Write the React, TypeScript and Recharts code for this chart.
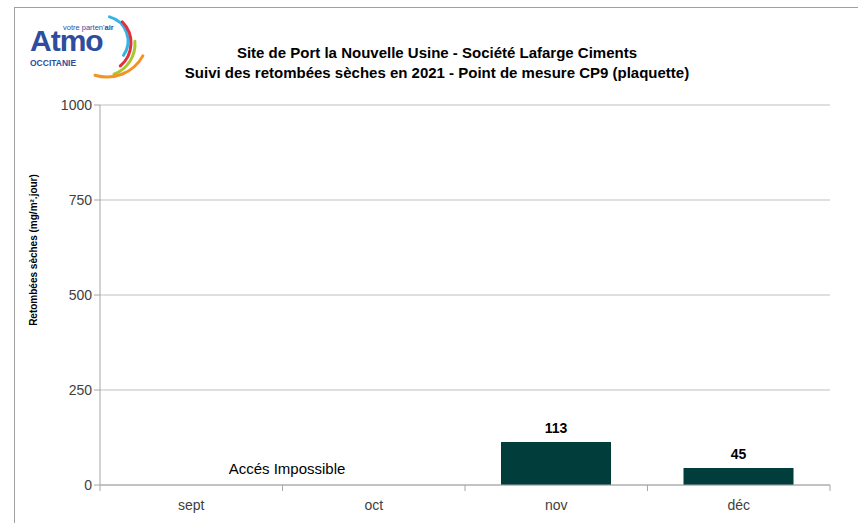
import React from 'react';
import { BarChart, Bar, XAxis, YAxis, CartesianGrid, LabelList } from 'recharts';

document.body.style.margin = '0';

// Monthly measurements (mg/m².jour), null = no measurement
const months = ['sept', 'oct', 'nov', 'déc'];
const retombees: (number | null)[] = [null, null, 113, 45];
const yTicks = [0, 250, 500, 750, 1000];

const data = months.map((m, i) => ({ month: m, value: retombees[i] }));

const FONT = 'Arial, "Liberation Sans", Helvetica, sans-serif';

// x tick: label at the centre, tick mark at the left boundary of each band
const MonthTick = (props: any) => {
  const { x, y, payload, index } = props;
  const half = payload?.offset ?? 91;
  return (
    <g>
      <line x1={x - half} y1={y - 8} x2={x - half} y2={y - 2} stroke="#a6a6a6" />
      {index === months.length - 1 && (
        <line x1={x + half} y1={y - 8} x2={x + half} y2={y - 2} stroke="#a6a6a6" />
      )}
      <text x={x} y={y + 17} textAnchor="middle" fontSize={14} fill="#404040" fontFamily={FONT}>
        {payload.value}
      </text>
    </g>
  );
};

// arc helper for the logo swooshes
const arc = (cx: number, cy: number, r: number, a0: number, a1: number) => {
  const rad = (a: number) => (a * Math.PI) / 180;
  const x0 = cx + r * Math.cos(rad(a0));
  const y0 = cy + r * Math.sin(rad(a0));
  const x1 = cx + r * Math.cos(rad(a1));
  const y1 = cy + r * Math.sin(rad(a1));
  return `M ${x0} ${y0} A ${r} ${r} 0 0 1 ${x1} ${y1}`;
};

const Logo = () => (
  <svg width={134} height={72} style={{ position: 'absolute', left: 15, top: 10 }}>
    <rect width={134} height={72} fill="#ffffff" />
    <text x={48} y={20} fontSize={7.5} fill="#2e4d9c" fontFamily={FONT}>
      votre parten'<tspan fontWeight="bold">air</tspan>
    </text>
    <text x={15} y={41} fontSize={30} fontWeight="bold" fill="#2e4d9c" fontFamily={FONT} letterSpacing={-1}>
      Atmo
    </text>
    <text x={15} y={56} fontSize={8.5} fontWeight="bold" fill="#2e4d9c" fontFamily={FONT}>
      OCCITANIE
    </text>
    <path d={arc(88, 31, 25, -75, 35)} stroke="#35b5e5" strokeWidth={3} fill="none" strokeLinecap="round" />
    <path d={arc(86, 33, 30, -45, 50)} stroke="#e32f3c" strokeWidth={3} fill="none" strokeLinecap="round" />
    <path d={arc(88, 34, 32, -5, 70)} stroke="#a7c82c" strokeWidth={3} fill="none" strokeLinecap="round" />
    <path d={arc(92, 26, 41, 29, 107)} stroke="#f39325" strokeWidth={3} fill="none" strokeLinecap="round" />
  </svg>
);

const App: React.FC = () => {
  return (
    <div style={{ position: 'relative', width: 858, height: 523, background: '#fff', overflow: 'hidden' }}>
      {/* outer frame (left and top edges visible) */}
      <div
        style={{
          position: 'absolute',
          left: 14,
          top: 7,
          width: 900,
          height: 600,
          borderLeft: '1px solid #a0a0a0',
          borderTop: '1px solid #a0a0a0',
        }}
      />
      <Logo />
      <div
        style={{
          position: 'absolute',
          left: 0,
          width: 874,
          top: 43,
          textAlign: 'center',
          fontFamily: FONT,
          fontWeight: 'bold',
          fontSize: 15,
          lineHeight: '20px',
          color: '#000',
        }}
      >
        Site de Port la Nouvelle Usine - Société Lafarge Ciments
        <br />
        Suivi des retombées sèches en 2021 - Point de mesure CP9 (plaquette)
      </div>
      <div
        style={{
          position: 'absolute',
          left: 33,
          top: 250,
          transform: 'translate(-50%, -50%) rotate(-90deg)',
          whiteSpace: 'nowrap',
          fontFamily: FONT,
          fontWeight: 'bold',
          fontSize: 10,
          color: '#000',
        }}
      >
        Retombées sèches (mg/m².jour)
      </div>
      <div
        style={{
          position: 'absolute',
          left: 287,
          top: 468,
          transform: 'translate(-50%, -50%)',
          whiteSpace: 'nowrap',
          fontFamily: FONT,
          fontSize: 15,
          color: '#000',
        }}
      >
        Accés Impossible
      </div>
      <div style={{ position: 'absolute', left: 0, top: 0 }}>
        <BarChart
          width={858}
          height={523}
          data={data}
          margin={{ top: 105, right: 28, left: 40, bottom: 8 }}
          barCategoryGap="20%"
        >
          <CartesianGrid vertical={false} stroke="#bfbfbf" />
          <XAxis
            dataKey="month"
            axisLine={{ stroke: '#a6a6a6' }}
            tickLine={false}
            tick={<MonthTick />}
            height={30}
            interval={0}
          />
          <YAxis
            domain={[0, 1000]}
            ticks={yTicks}
            width={60}
            axisLine={{ stroke: '#a6a6a6' }}
            tickLine={{ stroke: '#a6a6a6' }}
            tickSize={6}
            tick={{ fontSize: 14, fill: '#404040', fontFamily: FONT }}
          />
          <Bar dataKey="value" fill="#003d3b" barSize={110} isAnimationActive={false}>
            <LabelList
              dataKey="value"
              position="top"
              offset={9}
              style={{ fontSize: 14, fontWeight: 'bold', fill: '#000', fontFamily: FONT }}
            />
          </Bar>
        </BarChart>
      </div>
    </div>
  );
};

export default App;
